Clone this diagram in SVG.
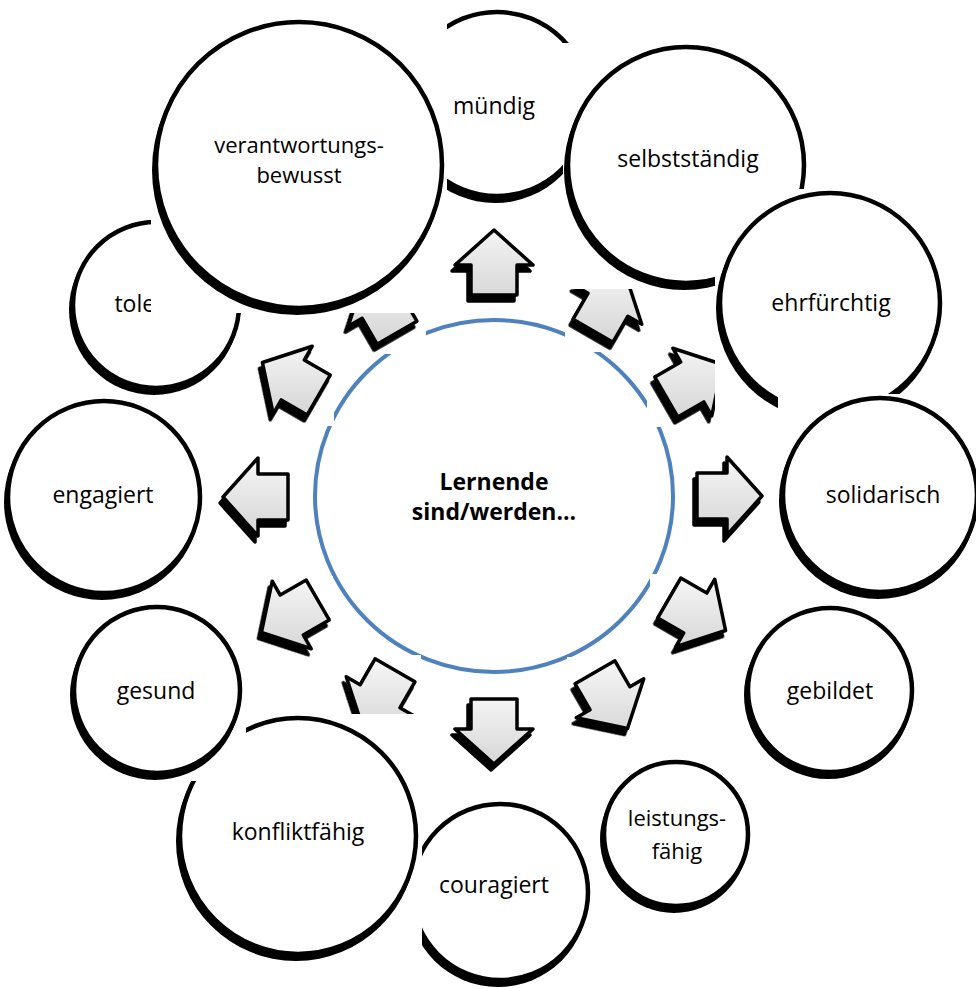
<svg xmlns="http://www.w3.org/2000/svg" xmlns:xlink="http://www.w3.org/1999/xlink" width="976" height="989" viewBox="0 0 976 989">
<style>
.lbl{font-family:"Open Sans","Liberation Sans",sans-serif;font-size:23px;fill:#000;text-anchor:middle}
.two{font-size:22px}
.ctr{font-weight:bold}
.bg{fill:#fff}
.csh{fill:#000;filter:url(#soft)}
.node{fill:#fff;stroke:#000;stroke-width:4.5}
.ash{fill:#000;stroke:#000;stroke-width:3.5;stroke-linejoin:round;filter:url(#soft)}
.af{stroke:#000;stroke-width:3.5;stroke-linejoin:round}
</style>
<defs>
<filter id="soft" x="-5%" y="-5%" width="110%" height="110%"><feGaussianBlur stdDeviation="0.6"/></filter>
<path id="arr" d="M0,-33 L39,2 L23,2 L23,32 L-23,32 L-23,2 L-39,2 Z"/>
<linearGradient id="ag" gradientUnits="userSpaceOnUse" x1="0" y1="-38" x2="0" y2="38">
<stop offset="0" stop-color="#f6f6f6"/><stop offset="1" stop-color="#d5d5d5"/>
</linearGradient>
<linearGradient id="ag0" href="#ag"/>
<linearGradient id="ag30" href="#ag" gradientTransform="rotate(-30)"/>
<linearGradient id="ag60" href="#ag" gradientTransform="rotate(-60)"/>
<linearGradient id="ag90" href="#ag" gradientTransform="rotate(-90)"/>
<linearGradient id="ag120" href="#ag" gradientTransform="rotate(-120)"/>
<linearGradient id="ag150" href="#ag" gradientTransform="rotate(-150)"/>
<linearGradient id="ag180" href="#ag" gradientTransform="rotate(-180)"/>
<linearGradient id="ag210" href="#ag" gradientTransform="rotate(-210)"/>
<linearGradient id="ag240" href="#ag" gradientTransform="rotate(-240)"/>
<linearGradient id="ag270" href="#ag" gradientTransform="rotate(-270)"/>
<linearGradient id="ag300" href="#ag" gradientTransform="rotate(-300)"/>
<linearGradient id="ag330" href="#ag" gradientTransform="rotate(-330)"/>
</defs>
<rect width="976" height="989" fill="#fff"/>

<g id="center">
<ellipse cx="494" cy="496" rx="179" ry="176" fill="#fff" stroke="#4f81bd" stroke-width="4"/>
<text class="lbl ctr" x="494" y="490">Lernende</text>
<text class="lbl ctr" x="494" y="520">sind/werden...</text>
</g>

<g id="connectors">
<g id="arrow-0"><rect class="bg" x="447" y="226" width="90" height="79"/><g transform="translate(494,263)"><use href="#arr" class="ash" transform="translate(-3,6) rotate(0)"/><use href="#arr" class="af" fill="url(#ag0)" transform="rotate(0)"/></g></g>
<g id="arrow-30"><rect class="bg" x="565" y="270" width="81" height="82"/><g transform="translate(609,303)"><use href="#arr" class="ash" transform="translate(-3,6) rotate(30)"/><use href="#arr" class="af" fill="url(#ag30)" transform="rotate(30)"/></g></g>
<g id="arrow-60"><rect class="bg" x="647" y="344" width="80" height="83"/><g transform="translate(694,381)"><use href="#arr" class="ash" transform="translate(-3,6) rotate(60)"/><use href="#arr" class="af" fill="url(#ag60)" transform="rotate(60)"/></g></g>
<g id="arrow-90"><rect class="bg" x="689" y="453" width="77" height="92"/><g transform="translate(729,496)"><use href="#arr" class="ash" transform="translate(-3,6) rotate(90)"/><use href="#arr" class="af" fill="url(#ag90)" transform="rotate(90)"/></g></g>
<g id="arrow-120"><rect class="bg" x="650" y="574" width="80" height="83"/><g transform="translate(697,614)"><use href="#arr" class="ash" transform="translate(-3,6) rotate(120)"/><use href="#arr" class="af" fill="url(#ag120)" transform="rotate(120)"/></g></g>
<g id="arrow-150"><rect class="bg" x="567" y="657" width="81" height="82"/><g transform="translate(611,700)"><use href="#arr" class="ash" transform="translate(-3,6) rotate(150)"/><use href="#arr" class="af" fill="url(#ag150)" transform="rotate(150)"/></g></g>
<g id="arrow-180"><rect class="bg" x="447" y="695" width="90" height="79"/><g transform="translate(494,731)"><use href="#arr" class="ash" transform="translate(-3,6) rotate(180)"/><use href="#arr" class="af" fill="url(#ag180)" transform="rotate(180)"/></g></g>
<g id="arrow-210"><rect class="bg" x="338" y="655" width="83" height="82"/><g transform="translate(379,698)"><use href="#arr" class="ash" transform="translate(-3,6) rotate(210)"/><use href="#arr" class="af" fill="url(#ag210)" transform="rotate(210)"/></g></g>
<g id="arrow-240"><rect class="bg" x="253" y="576" width="80" height="83"/><g transform="translate(290,616)"><use href="#arr" class="ash" transform="translate(-3,6) rotate(240)"/><use href="#arr" class="af" fill="url(#ag240)" transform="rotate(240)"/></g></g>
<g id="arrow-270"><rect class="bg" x="215" y="454" width="77" height="92"/><g transform="translate(256,497)"><use href="#arr" class="ash" transform="translate(-3,6) rotate(270)"/><use href="#arr" class="af" fill="url(#ag270)" transform="rotate(270)"/></g></g>
<g id="arrow-300"><rect class="bg" x="254" y="342" width="80" height="84"/><g transform="translate(291,379)"><use href="#arr" class="ash" transform="translate(-3,6) rotate(300)"/><use href="#arr" class="af" fill="url(#ag300)" transform="rotate(300)"/></g></g>
<g id="arrow-330"><rect class="bg" x="340" y="272" width="86" height="82"/><g transform="translate(381,305)"><use href="#arr" class="ash" transform="translate(-3,6) rotate(330)"/><use href="#arr" class="af" fill="url(#ag330)" transform="rotate(330)"/></g></g>
</g>

<g id="node-tolerant"><rect class="bg" x="68" y="218" width="175" height="178"/><circle class="csh" cx="154" cy="310" r="85"/><circle class="node" cx="156" cy="305" r="83"/><text class="lbl" x="157" y="312">tolerant</text></g>
<g id="node-muendig"><rect class="bg" x="400" y="8" width="193" height="196"/><circle class="csh" cx="495" cy="109" r="94"/><circle class="node" cx="497" cy="104" r="92"/><text class="lbl" x="494" y="114">mündig</text></g>
<g id="node-verantwortungsbewusst"><rect class="bg" x="151" y="18" width="296" height="295"/><circle class="csh" cx="297" cy="170" r="145"/><circle class="node" cx="299" cy="165" r="143"/><text class="lbl two" x="299" y="153">verantwortungs-</text><text class="lbl two" x="299" y="183">bewusst</text></g>
<g id="node-selbststaendig"><rect class="bg" x="563" y="43" width="247" height="246"/><circle class="csh" cx="684" cy="170" r="120"/><circle class="node" cx="686" cy="165" r="118"/><text class="lbl" x="688" y="167">selbstständig</text></g>
<g id="node-ehrfuerchtig"><rect class="bg" x="715" y="189" width="231" height="228"/><circle class="csh" cx="828" cy="308" r="112"/><circle class="node" cx="830" cy="303" r="110"/><text class="lbl" x="831" y="311">ehrfürchtig</text></g>
<g id="node-solidarisch"><rect class="bg" x="778" y="394" width="203" height="206"/><circle class="csh" cx="878" cy="500" r="99"/><circle class="node" cx="880" cy="495" r="97"/><text class="lbl" x="883" y="503">solidarisch</text></g>
<g id="node-gebildet"><rect class="bg" x="743" y="604" width="175" height="176"/><circle class="csh" cx="828" cy="695" r="84"/><circle class="node" cx="830" cy="690" r="82"/><text class="lbl" x="830" y="699">gebildet</text></g>
<g id="node-leistungsfaehig"><rect class="bg" x="599" y="758" width="155" height="156"/><circle class="csh" cx="674" cy="839" r="74"/><circle class="node" cx="676" cy="834" r="72"/><text class="lbl two" x="677" y="826">leistungs-</text><text class="lbl two" x="677" y="859">fähig</text></g>
<g id="node-couragiert"><rect class="bg" x="407" y="800" width="187" height="188"/><circle class="csh" cx="498" cy="897" r="90"/><circle class="node" cx="500" cy="892" r="88"/><text class="lbl" x="494" y="893">couragiert</text></g>
<g id="node-konfliktfaehig"><rect class="bg" x="175" y="714" width="247" height="248"/><circle class="csh" cx="296" cy="841" r="120"/><circle class="node" cx="298" cy="836" r="118"/><text class="lbl" x="298" y="840">konfliktfähig</text></g>
<g id="node-gesund"><rect class="bg" x="69" y="603" width="177" height="178"/><circle class="csh" cx="155" cy="695" r="85"/><circle class="node" cx="157" cy="690" r="83"/><text class="lbl" x="156" y="699">gesund</text></g>
<g id="node-engagiert"><rect class="bg" x="3" y="397" width="203" height="204"/><circle class="csh" cx="102" cy="502" r="98"/><circle class="node" cx="104" cy="497" r="96"/><text class="lbl" x="103" y="503">engagiert</text></g>
</svg>
